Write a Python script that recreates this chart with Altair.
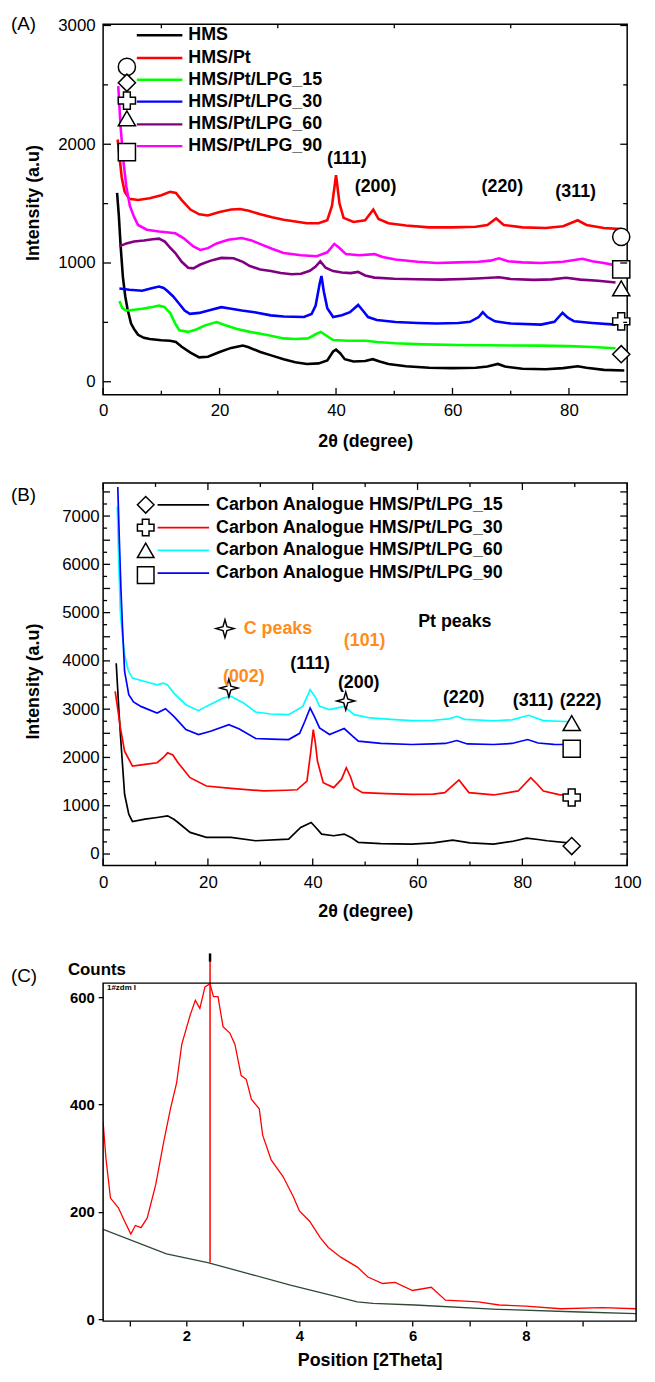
import altair as alt
import pandas as pd

FONT = "Liberation Sans"

# ======================= Panel (A) data =======================
A_NAMES = ["HMS", "HMS/Pt", "HMS/Pt/LPG_15", "HMS/Pt/LPG_30", "HMS/Pt/LPG_60", "HMS/Pt/LPG_90"]
A_COLORS = ["#000000", "#ff0000", "#00ff00", "#0000ff", "#800080", "#ff00ff"]

A_HMS_X = [2.4, 2.7, 3.0, 3.4, 3.8, 4.2, 4.8, 5.3, 6, 7, 8, 10, 11.5, 12.5, 13.5, 15, 16.5, 18, 20, 22, 24, 25,
           27, 29, 31, 33, 35, 37, 38.5, 39.5, 40, 40.7, 41.5, 43, 45, 46.3, 47.5, 49, 52, 56, 60, 64, 66, 67.8,
           69, 72, 76, 79, 81.5, 83, 86, 89.5]
A_HMS_Y = [1590, 1400, 1150, 880, 720, 610, 490, 445, 395, 370, 360, 350, 345, 335, 295, 245, 205, 210, 250, 285,
           305, 290, 250, 220, 190, 165, 150, 155, 180, 255, 270, 240, 190, 170, 175, 190, 170, 150, 130, 118, 115,
           118, 128, 150, 128, 110, 105, 115, 130, 118, 100, 95]

A_PT_X = [2.5, 2.8, 3.2, 3.7, 4.5, 6, 8, 10, 11.5, 12.5, 13.5, 15, 16.5, 18, 20, 22, 23.5, 25, 27, 29, 31, 33, 35,
          37, 38.5, 39.3, 40, 40.6, 41.3, 43, 45, 46.4, 47.3, 49, 52, 56, 60, 64, 66, 67.5, 68.8, 72, 76, 79, 81.5,
          83, 86, 89]
A_PT_Y = [2040, 1900, 1720, 1600, 1540, 1530, 1545, 1570, 1600, 1590, 1530, 1450, 1410, 1400, 1430, 1450, 1455,
          1440, 1410, 1385, 1365, 1350, 1335, 1335, 1360, 1480, 1740, 1500, 1380, 1345, 1360, 1450, 1370, 1335,
          1315, 1300, 1300, 1305, 1320, 1375, 1320, 1300, 1295, 1310, 1360, 1320, 1295, 1285]

A_L15_X = [2.8, 3.3, 3.9, 5, 6.7, 8.5, 9.6, 10.5, 11.5, 12.5, 13.1, 14.6, 16, 17.5, 19.5, 21, 23, 25.2, 28, 31,
           33, 35.2, 36.5, 37.4, 38.3, 39.5, 42, 45.2, 47, 50.2, 55, 61, 66, 70, 75, 80, 84, 88]
A_L15_Y = [680, 620, 600, 605, 614, 630, 642, 630, 580, 480, 434, 420, 440, 475, 503, 476, 445, 420, 395, 365,
           360, 365, 400, 420, 390, 351, 345, 345, 335, 324, 315, 310, 308, 305, 304, 300, 292, 282]

A_L30_X = [2.8, 4.5, 6.7, 8.5, 9.6, 10.4, 11, 12, 13.1, 14, 14.9, 16.5, 18.1, 20.3, 22, 23.8, 26, 28.8, 31, 34.5,
           35.8, 36.5, 37.2, 37.5, 37.9, 38.5, 39.5, 41, 42.4, 43.8, 44.6, 45.5, 47, 50.2, 54, 57.3, 61, 63, 64.5,
           65.2, 66, 67.3, 70, 75.2, 77.5, 78.9, 79.8, 80.9, 84, 88]
A_L30_Y = [785, 775, 766, 790, 802, 790, 766, 720, 655, 600, 572, 580, 600, 628, 615, 600, 585, 559, 550, 545,
           570, 642, 830, 890, 760, 620, 545, 560, 586, 647, 600, 545, 520, 503, 495, 490, 495, 505, 545, 586, 545,
           509, 490, 481, 505, 581, 540, 509, 495, 481]

A_L60_X = [2.8, 4, 5.3, 7, 8.5, 9.6, 10.6, 11.5, 12.4, 13.5, 14.6, 15.5, 16.7, 18.5, 20.3, 22.4, 24, 25.2, 27,
           28.8, 30.5, 32.4, 34, 35.5, 36.5, 37.3, 38.2, 39.5, 41, 42.5, 43.8, 45, 46.6, 50, 53.8, 58, 62, 65, 68,
           70, 74, 77, 79.5, 82, 85, 88]
A_L60_Y = [1140, 1165, 1181, 1190, 1200, 1205, 1180, 1130, 1084, 1010, 960, 955, 987, 1020, 1043, 1040, 1010, 974,
           945, 932, 915, 905, 910, 935, 970, 1015, 960, 932, 920, 915, 925, 895, 877, 868, 863, 860, 865, 872,
           880, 865, 858, 862, 875, 860, 850, 835]

A_L90_X = [2.6, 3.0, 3.5, 4.0, 4.6, 5.3, 6, 7.5, 9.6, 12.4, 13.8, 15.5, 16.7, 18, 19.5, 21.5, 23.8, 25.5, 26.7, 29,
           31, 34, 36.7, 38.5, 39.7, 40.5, 41.7, 44, 46.6, 48, 50.2, 54, 57.3, 61, 64.5, 66.5, 68, 69.5, 72, 75.2,
           79, 82.3, 84, 86, 88]
A_L90_Y = [2490, 2150, 1850, 1640, 1480, 1390, 1320, 1280, 1265, 1250, 1210, 1140, 1110, 1125, 1165, 1195, 1210,
           1190, 1165, 1120, 1085, 1065, 1057, 1090, 1160, 1130, 1075, 1065, 1075, 1050, 1029, 1010, 1000, 1005,
           1010, 1020, 1040, 1015, 1005, 1000, 1010, 1035, 1015, 1000, 980]

A_MARK_SHAPES = ["circle", "diamond", "cross", "triangle-up", "square"]
A_MARK_END_Y = [1220, 232, 509, 786, 946]
A_PEAK_LABELS = ["(111)", "(200)", "(220)", "(311)"]
A_XTICKS = [0, 20, 40, 60, 80]
A_YTICKS = [0, 1000, 2000, 3000]

# ======================= Panel (B) data =======================
B_NAMES = ["Carbon Analogue HMS/Pt/LPG_15", "Carbon Analogue HMS/Pt/LPG_30",
           "Carbon Analogue HMS/Pt/LPG_60", "Carbon Analogue HMS/Pt/LPG_90"]
B_COLORS = ["#000000", "#ff0000", "#00ffff", "#0000ff"]

B_L15_X = [2.5, 3.0, 3.3, 4.1, 4.9, 5.6, 8, 10.3, 12.3, 13.5, 14.3, 16.6, 19.7, 24.4, 29.1, 35.4, 37.7, 39.7, 40.5,
           41.7, 44, 46, 47.5, 48.7, 53, 58.9, 63, 66.7, 70, 74.5, 78, 80.8, 83, 84.7, 89.8]
B_L15_Y = [3952, 3000, 2474, 1237, 825, 674, 722, 756, 790, 720, 653, 447, 344, 344, 275, 309, 550, 653, 560, 412,
           378, 412, 330, 241, 215, 206, 230, 289, 230, 206, 260, 330, 300, 275, 220]

B_L30_X = [2.3, 2.8, 3.3, 4.1, 5.6, 8, 10.3, 11.5, 12.3, 13.3, 14.3, 16.6, 19.7, 24.4, 30.7, 35, 37, 38.9, 39.6,
           40.1, 40.5, 40.9, 42, 44, 45.5, 46.4, 47.2, 47.9, 49.5, 54, 58.9, 63, 65.2, 67.9, 69.8, 74.5, 79.2, 81.6,
           82.8, 84, 87, 89.8]
B_L30_Y = [3368, 3000, 2612, 2131, 1821, 1856, 1890, 2000, 2096, 2050, 1890, 1581, 1409, 1361, 1306, 1320, 1330,
           1512, 2100, 2577, 2300, 1924, 1478, 1375, 1550, 1787, 1600, 1375, 1271, 1250, 1237, 1240, 1271, 1533,
           1271, 1223, 1306, 1581, 1450, 1306, 1230, 1203]

B_L60_X = [2.7, 3.0, 3.3, 3.7, 4.1, 4.8, 5.6, 8, 10.3, 11.5, 12.3, 13.5, 15.8, 18.2, 19.7, 22.9, 24.4, 26.8, 29.1,
           32, 35.4, 38.1, 39.5, 40.5, 41.3, 43.2, 46, 47.9, 51, 55, 58.9, 63, 66, 67.5, 69, 74.5, 78, 81.2, 84, 87,
           89.8]
B_L60_Y = [7200, 6000, 5000, 4500, 4124, 3800, 3643, 3574, 3505, 3540, 3500, 3333, 3093, 2969, 3058, 3230, 3265,
           3127, 2942, 2900, 2887, 3058, 3402, 3250, 3058, 2990, 3058, 2887, 2818, 2790, 2763, 2770, 2800, 2852,
           2790, 2760, 2780, 2873, 2763, 2750, 2736]

B_L90_X = [2.8, 3.1, 3.4, 3.7, 4.1, 4.9, 5.8, 7.2, 10.3, 11.9, 13.5, 15.8, 18.2, 20.5, 24, 26, 29.1, 32, 35.4,
           37.5, 38.5, 39.5, 40.3, 41.3, 43.2, 46, 47.5, 48.7, 53, 58.9, 63, 65.3, 67.5, 69.5, 74.5, 78, 81, 83, 86,
           89.8]
B_L90_Y = [7600, 6500, 5500, 4700, 3780, 3300, 3150, 3058, 2921, 3010, 2852, 2577, 2474, 2543, 2680, 2590, 2392,
           2380, 2371, 2500, 2750, 3024, 2850, 2612, 2474, 2598, 2450, 2337, 2290, 2268, 2280, 2290, 2350, 2280,
           2268, 2290, 2371, 2300, 2270, 2268]

B_MARK_SHAPES = ["diamond", "cross", "triangle-up", "square"]
B_MARK_END_Y = [165, 1170, 2710, 2180]
B_STAR_X = [24.0, 46.3]
B_STAR_Y = [3437, 3171]
B_PT_LABELS = ["(111)", "(200)", "(220)", "(311)", "(222)"]
B_C_LABELS = ["(002)", "(101)"]
B_XTICKS = [0, 20, 40, 60, 80, 100]
B_YTICKS = [0, 500, 1000, 1500, 2000, 2500, 3000, 3500, 4000, 4500, 5000, 5500, 6000, 6500, 7000, 7500]

# ======================= Panel (C) data =======================
C_RED_X = [0.53, 0.58, 0.66, 0.8, 0.91, 1.02, 1.1, 1.2, 1.31, 1.46, 1.6, 1.72, 1.83, 1.92, 2.07, 2.16, 2.24, 2.33,
           2.42, 2.48, 2.56, 2.65, 2.77, 2.86, 2.97, 3.06, 3.15, 3.29, 3.35, 3.5, 3.71, 3.89, 4.0, 4.18, 4.37, 4.51,
           4.73, 5.03, 5.21, 5.47, 5.69, 6.0, 6.33, 6.58, 7.16, 7.53, 8.0, 8.62, 9.35, 9.95]
C_RED_Y = [368, 300, 226, 208, 183, 159, 175, 171, 189, 251, 330, 392, 441, 512, 567, 594, 579, 619, 625, 601, 601,
           545, 533, 512, 454, 447, 410, 392, 343, 297, 266, 229, 202, 183, 152, 134, 116, 97, 79, 67, 69, 54, 60,
           36, 33, 27, 25, 20, 22, 20]
C_BG_X = [0.53, 1.65, 2.38, 3.11, 3.84, 4.57, 5.02, 5.3, 6.04, 7.5, 8.96, 9.95]
C_BG_Y = [168, 122, 106, 85, 64, 45, 33, 30, 27, 19, 14, 11]
C_PEAK_X = 2.42
C_PEAK_BASE = 106
C_XTICKS = [1, 2, 3, 4, 5, 6, 7, 8, 9]
C_YTICKS = [0, 200, 400, 600]

# ======================= layout =======================
W = 529
AH, BH = 374, 386
A_XDOM, A_YDOM = [0, 90], [-110, 3010]
B_XDOM, B_YDOM = [0, 100], [-236, 7685]
CW, CH = 538, 371
C_XDOM, C_YDOM = [0.53, 9.95], [-3, 681]
C_FRAME_TOP = 626
A_TOP, B_TOP, LEFT = 22, 485, 103
ORANGE = "#ff8c1a"


def conv(px, py, xdom, ydom, top, w, h):
    x = xdom[0] + (px - LEFT) / w * (xdom[1] - xdom[0])
    y = ydom[1] - (py - top) / h * (ydom[1] - ydom[0])
    return x, y


def a_pt(px, py):
    return conv(px, py, A_XDOM, A_YDOM, A_TOP, W, AH)


def b_pt(px, py):
    return conv(px, py, B_XDOM, B_YDOM, B_TOP, W, BH)


def long_df(key, names, xs, ys):
    rows = []
    for n, xx, yy in zip(names, xs, ys):
        for a, b in zip(xx, yy):
            rows.append({key: n, "x": a, "y": b})
    return pd.DataFrame(rows)


def tick_rules(W_, H_, vals, length, side, axis_ch):
    df = pd.DataFrame({axis_ch: vals})
    m = alt.Chart(df).mark_rule(color="black", strokeWidth=1.3)
    if axis_ch == "x":
        enc = {"x": alt.X("x:Q")}
        if side == "bottom":
            enc.update(y=alt.value(H_), y2=alt.value(H_ - length))
        else:
            enc.update(y=alt.value(0), y2=alt.value(length))
    else:
        enc = {"y": alt.Y("y:Q")}
        if side == "left":
            enc.update(x=alt.value(0), x2=alt.value(length))
        else:
            enc.update(x=alt.value(W_ - length), x2=alt.value(W_))
    return m.encode(**enc)


def text_layer(df, size, color="black", weight="bold", align="center"):
    return alt.Chart(df).mark_text(font=FONT, fontSize=size, fontWeight=weight, color=color,
                                   align=align, baseline="middle").encode(
        x=alt.X("x:Q"), y=alt.Y("y:Q"), text="t:N")


def markers(df, size):
    return alt.Chart(df).mark_point(filled=True, fill="white", stroke="black", strokeWidth=1.5,
                                    opacity=1, size=size).encode(
        x=alt.X("x:Q"), y=alt.Y("y:Q"), shape=alt.Shape("s:N", scale=None))


def panel_label(t, px, py):
    return alt.Chart(pd.DataFrame({"t": [t]})).mark_text(
        font=FONT, fontSize=19, align="left", baseline="middle", color="black").encode(
        x=alt.value(px), y=alt.value(py), text="t:N")


# ---------------- Panel A ----------------
dfA = long_df("sa", A_NAMES, [A_HMS_X, A_PT_X, A_L15_X, A_L30_X, A_L60_X, A_L90_X],
              [A_HMS_Y, A_PT_Y, A_L15_Y, A_L30_Y, A_L60_Y, A_L90_Y])
colA = alt.Color("sa:N", scale=alt.Scale(domain=A_NAMES, range=A_COLORS), legend=None)

linesA = alt.Chart(dfA).mark_line(strokeWidth=2.6, clip=True).encode(
    x=alt.X("x:Q", scale=alt.Scale(domain=A_XDOM, nice=False, zero=False),
            axis=alt.Axis(values=A_XTICKS, format="d", labelFontSize=17, labelPadding=8, ticks=False,
                          tickSize=0, domain=False, grid=False, labelFlush=False, title="2θ (degree)",
                          titleFontSize=18, titleFontWeight="bold", titleY=47, titleBaseline="middle")),
    y=alt.Y("y:Q", scale=alt.Scale(domain=A_YDOM, nice=False, zero=False),
            axis=alt.Axis(values=A_YTICKS, format="d", labelFontSize=17, labelPadding=8, ticks=False,
                          tickSize=0, domain=False, grid=False, labelOverlap=False, title="Intensity (a.u)",
                          titleFontSize=18, titleFontWeight="bold", titleAngle=270, titleX=-70,
                          titleY=180, titleBaseline="middle", titleAlign="center")),
    color=colA, detail="sa:N")

legA_rows = [33, 56, 78, 100, 123, 145]
legA_line = pd.DataFrame({
    "sa": A_NAMES,
    "x": [a_pt(137, r)[0] for r in legA_rows],
    "x2": [a_pt(183, r)[0] for r in legA_rows],
    "y": [a_pt(0, r)[1] for r in legA_rows]})
legA_rules = alt.Chart(legA_line).mark_rule(strokeWidth=2.4).encode(
    x=alt.X("x:Q"), x2="x2:Q", y=alt.Y("y:Q"), color=colA)
legA_text = text_layer(pd.DataFrame({"t": A_NAMES, "x": [a_pt(189, r)[0] for r in legA_rows],
                                     "y": [a_pt(0, r)[1] for r in legA_rows]}), 18, align="left")
legA_mark_rows = [65, 81, 99, 117, 151]
legA_marks = markers(pd.DataFrame({"s": A_MARK_SHAPES, "x": [a_pt(127, r)[0] for r in legA_mark_rows],
                                   "y": [a_pt(0, r)[1] for r in legA_mark_rows]}), 300)
endA_marks = markers(pd.DataFrame({"s": A_MARK_SHAPES, "x": [a_pt(626, 0)[0]] * 5, "y": A_MARK_END_Y}), 300)
peakA_pos = [(349, 158), (378, 186), (506, 186), (580, 191)]
peakA = text_layer(pd.DataFrame({"t": A_PEAK_LABELS, "x": [a_pt(p[0], p[1])[0] for p in peakA_pos],
                                 "y": [a_pt(p[0], p[1])[1] for p in peakA_pos]}), 18)

ticksA = [
    tick_rules(W, AH, A_XTICKS, 7, "bottom", "x"),
    tick_rules(W, AH, [10, 30, 50, 70], 4, "bottom", "x"),
    tick_rules(W, AH, [10, 30, 50, 70], 4, "top", "x"),
    tick_rules(W, AH, A_YTICKS, 8, "left", "y"),
    tick_rules(W, AH, [500, 1500, 2500], 5, "left", "y"),
    tick_rules(W, AH, A_YTICKS, 7, "right", "y"),
    tick_rules(W, AH, [500, 1500, 2500], 4, "right", "y"),
]

chartA = alt.layer(linesA, legA_rules, legA_text, legA_marks, endA_marks, peakA, *ticksA,
                   panel_label("(A)", -93, 0)).properties(width=W, height=AH)

# ---------------- Panel B ----------------
dfB = long_df("sb", B_NAMES, [B_L15_X, B_L30_X, B_L60_X, B_L90_X], [B_L15_Y, B_L30_Y, B_L60_Y, B_L90_Y])
colB = alt.Color("sb:N", scale=alt.Scale(domain=B_NAMES, range=B_COLORS), legend=None)

linesB = alt.Chart(dfB).mark_line(strokeWidth=1.7, clip=True).encode(
    x=alt.X("x:Q", scale=alt.Scale(domain=B_XDOM, nice=False, zero=False),
            axis=alt.Axis(values=B_XTICKS, format="d", labelFontSize=17, labelPadding=9, ticks=False,
                          tickSize=0, domain=False, grid=False, labelFlush=False, title="2θ (degree)",
                          titleFontSize=18, titleFontWeight="bold", titleY=47, titleBaseline="middle")),
    y=alt.Y("y:Q", scale=alt.Scale(domain=B_YDOM, nice=False, zero=False),
            axis=alt.Axis(values=B_YTICKS, format="d", labelFontSize=17, labelPadding=4, ticks=False,
                          tickSize=0, domain=False, grid=False, labelOverlap=False, title="Intensity (a.u)",
                          titleFontSize=18, titleFontWeight="bold", titleAngle=270, titleX=-70,
                          titleY=200, titleBaseline="middle", titleAlign="center")),
    color=colB, detail="sb:N")

legB_rows = [507, 530, 553, 576]
legB_line = pd.DataFrame({
    "sb": B_NAMES,
    "x": [b_pt(158, r)[0] for r in legB_rows],
    "x2": [b_pt(210, r)[0] for r in legB_rows],
    "y": [b_pt(0, r)[1] for r in legB_rows]})
legB_rules = alt.Chart(legB_line).mark_rule(strokeWidth=1.7).encode(
    x=alt.X("x:Q"), x2="x2:Q", y=alt.Y("y:Q"), color=colB)
legB_text = text_layer(pd.DataFrame({"t": B_NAMES, "x": [b_pt(217, r)[0] for r in legB_rows],
                                     "y": [b_pt(0, r)[1] for r in legB_rows]}), 18, align="left")
legB_mark_rows = [507, 530, 553, 578]
legB_marks = markers(pd.DataFrame({"s": B_MARK_SHAPES, "x": [b_pt(146, r)[0] for r in legB_mark_rows],
                                   "y": [b_pt(0, r)[1] for r in legB_mark_rows]}), 280)
endB_marks = markers(pd.DataFrame({"s": B_MARK_SHAPES, "x": [b_pt(576, 0)[0]] * 4, "y": B_MARK_END_Y}), 300)

STAR = "M0,-1L0.22,-0.22L1,0L0.22,0.22L0,1L-0.22,0.22L-1,0L-0.22,-0.22Z"
starsB = markers(pd.DataFrame({"s": [STAR, STAR, STAR],
                               "x": B_STAR_X + [b_pt(226, 632)[0]],
                               "y": B_STAR_Y + [b_pt(226, 632)[1]]}), 330)

ptB_pos = [(312, 668), (361, 687), (467, 702), (537, 705), (585, 705)]
ptB = text_layer(pd.DataFrame({"t": B_PT_LABELS, "x": [b_pt(*p)[0] for p in ptB_pos],
                               "y": [b_pt(*p)[1] for p in ptB_pos]}), 18)
cB_pos = [(245, 681), (367, 645)]
cB = text_layer(pd.DataFrame({"t": B_C_LABELS, "x": [b_pt(*p)[0] for p in cB_pos],
                              "y": [b_pt(*p)[1] for p in cB_pos]}), 18, color=ORANGE)
cpeaks = text_layer(pd.DataFrame({"t": ["C peaks"], "x": [b_pt(245, 632)[0]], "y": [b_pt(245, 632)[1]]}),
                    18, color=ORANGE, align="left")
ptpeaks = text_layer(pd.DataFrame({"t": ["Pt peaks"], "x": [b_pt(421, 625)[0]], "y": [b_pt(421, 625)[1]]}),
                     18, align="left")

B_XMIN = [10, 30, 50, 70, 90]
B_YMIN = [250 + 500 * i for i in range(15)]
ticksB = [
    tick_rules(W, BH, B_XTICKS, 7, "bottom", "x"),
    tick_rules(W, BH, B_XMIN, 4, "bottom", "x"),
    tick_rules(W, BH, B_XTICKS, 7, "top", "x"),
    tick_rules(W, BH, B_XMIN, 4, "top", "x"),
    tick_rules(W, BH, B_YTICKS, 7, "left", "y"),
    tick_rules(W, BH, B_YMIN, 4, "left", "y"),
    tick_rules(W, BH, B_YTICKS, 7, "right", "y"),
    tick_rules(W, BH, B_YMIN, 4, "right", "y"),
]

chartB = alt.layer(linesB, legB_rules, legB_text, legB_marks, endB_marks, starsB, ptB, cB, cpeaks, ptpeaks,
                   *ticksB, panel_label("(B)", -93, 12)).properties(width=W, height=BH)

# ---------------- Panel C ----------------
dfC = long_df("sc", ["meas", "bg"], [C_RED_X, C_BG_X], [C_RED_Y, C_BG_Y])
colC = alt.Color("sc:N", scale=alt.Scale(domain=["meas", "bg"], range=["#ff0000", "#2e4a34"]), legend=None)

linesC = alt.Chart(dfC).mark_line(strokeWidth=1.3, clip=True).encode(
    x=alt.X("x:Q", scale=alt.Scale(domain=C_XDOM, nice=False, zero=False),
            axis=alt.Axis(values=C_XTICKS, format="d",
                          labelExpr="datum.value % 2 == 0 ? datum.label : ''",
                          labelFontSize=15, labelFontWeight="bold", labelPadding=3, ticks=True, tickSize=5,
                          tickColor="black", tickWidth=1.3, domain=False, grid=False, labelFlush=False,
                          title="Position [2Theta]", titleFontSize=18, titleFontWeight="bold", titleY=40,
                          titleBaseline="middle")),
    y=alt.Y("y:Q", scale=alt.Scale(domain=C_YDOM, nice=False, zero=False),
            axis=alt.Axis(values=C_YTICKS, format="d", labelFontSize=15, labelFontWeight="bold",
                          labelPadding=4, ticks=True, tickSize=5, tickColor="black", tickWidth=1.3,
                          domain=False, grid=False, title="Counts", titleAngle=0, titleX=-36, titleY=16,
                          titleAlign="left", titleBaseline="middle", titleFontSize=17,
                          titleFontWeight="bold")),
    color=colC, detail="sc:N")

frameC = alt.Chart(pd.DataFrame({"x": [C_XDOM[0]], "x2": [C_XDOM[1]], "y": [C_YDOM[0]],
                                 "y2": [C_FRAME_TOP]})).mark_rect(
    fillOpacity=0, stroke="black", strokeWidth=1.5).encode(
    x=alt.X("x:Q"), x2="x2:Q", y=alt.Y("y:Q"), y2="y2:Q")

peakC = alt.Chart(pd.DataFrame({"x": [C_PEAK_X], "y": [C_PEAK_BASE], "y2": [C_YDOM[1]]})).mark_rule(
    color="#ff0000", strokeWidth=1.5).encode(x=alt.X("x:Q"), y=alt.Y("y:Q"), y2="y2:Q")
peakTick = alt.Chart(pd.DataFrame({"x": [C_PEAK_X], "y": [666], "y2": [C_YDOM[1]]})).mark_rule(
    color="black", strokeWidth=2.5).encode(x=alt.X("x:Q"), y=alt.Y("y:Q"), y2="y2:Q")
tagC = alt.Chart(pd.DataFrame({"t": ["1#zdm I"], "x": [0.6], "y": [617]})).mark_text(
    font=FONT, fontSize=8, fontWeight="bold", align="left", baseline="middle", color="black").encode(
    x=alt.X("x:Q"), y=alt.Y("y:Q"), text="t:N")

chartC = alt.layer(linesC, peakC, peakTick, frameC, tagC, panel_label("(C)", -93, 23)).properties(
    width=CW, height=CH, view=alt.ViewBackground(stroke="transparent"))

chart = alt.vconcat(chartA, chartB, chartC, spacing=89, bounds="flush").resolve_scale(
    color="independent", shape="independent"
).properties(
    padding={"left": 2, "top": 0, "right": 5, "bottom": 5}
).configure_view(stroke="black", strokeWidth=1.5).configure_axis(
    labelFont=FONT, titleFont=FONT, labelColor="black", titleColor="black"
).configure_text(font=FONT)

chart.save("out.html", embed_options={"renderer": "svg", "actions": False})
